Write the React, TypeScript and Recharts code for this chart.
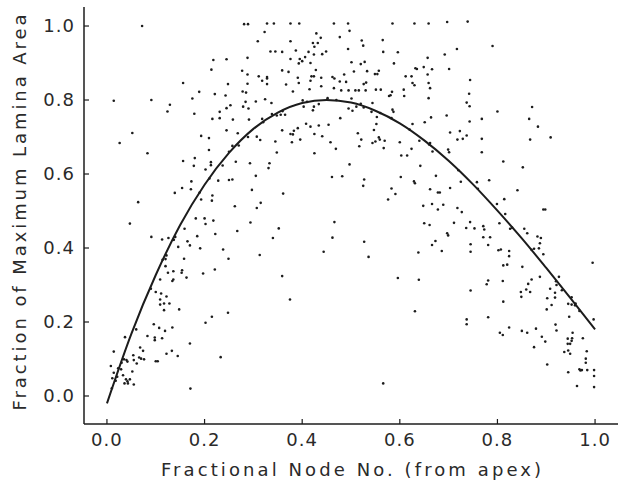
import React from "react";
import {
  ScatterChart,
  Scatter,
  XAxis,
  YAxis,
  Label,
} from "recharts";

// tick values
const xTicks = [0, 0.2, 0.4, 0.6, 0.8, 1.0];
const yTicks = [0, 0.2, 0.4, 0.6, 0.8, 1.0];

// fitted curve
const curveX = [0, 0.05, 0.1, 0.15, 0.2, 0.25, 0.3, 0.35, 0.4, 0.45, 0.5, 0.55, 0.6, 0.65, 0.7, 0.75, 0.8, 0.85, 0.9, 0.95, 1.0];
const curveY = [-0.02, 0.168, 0.327, 0.462, 0.571, 0.657, 0.722, 0.766, 0.792, 0.8, 0.793, 0.771, 0.737, 0.691, 0.636, 0.572, 0.501, 0.426, 0.346, 0.264, 0.18];

// observations, by region of the plot
const upperLeft: [number, number][] = [
  [0.072, 1.0], [0.281, 1.005], [0.289, 1.005], [0.309, 0.959], [0.218, 0.908], [0.245, 0.91], [0.288, 0.914],
  [0.214, 0.882], [0.277, 0.879], [0.288, 0.869], [0.311, 0.864], [0.156, 0.846], [0.248, 0.843], [0.288, 0.844],
  [0.189, 0.822], [0.221, 0.816], [0.243, 0.812], [0.278, 0.823], [0.285, 0.82], [0.175, 0.804], [0.014, 0.798],
  [0.091, 0.8], [0.284, 0.795], [0.305, 0.796], [0.129, 0.787], [0.253, 0.786], [0.245, 0.778], [0.279, 0.782],
  [0.29, 0.777], [0.124, 0.769], [0.231, 0.768], [0.179, 0.763], [0.216, 0.749], [0.231, 0.751], [0.258, 0.747],
  [0.291, 0.747], [0.245, 0.718], [0.268, 0.71], [0.193, 0.703], [0.209, 0.697], [0.289, 0.7], [0.307, 0.701],
  [0.314, 0.692], [0.052, 0.711], [0.026, 0.684], [0.083, 0.656], [0.209, 0.665], [0.257, 0.676], [0.27, 0.677],
  [0.18, 0.643], [0.156, 0.635], [0.213, 0.624], [0.213, 0.632], [0.264, 0.633], [0.293, 0.629], [0.178, 0.622],
  [0.202, 0.612], [0.237, 0.623], [0.21, 0.588], [0.228, 0.582], [0.25, 0.584], [0.257, 0.585], [0.305, 0.595],
  [0.173, 0.58], [0.154, 0.562], [0.172, 0.559], [0.139, 0.549], [0.216, 0.542], [0.297, 0.557], [0.193, 0.531],
  [0.215, 0.528], [0.064, 0.524], [0.262, 0.513], [0.307, 0.508], [0.315, 0.522],
];

const lowerLeft: [number, number][] = [
  [0.047, 0.466], [0.182, 0.48], [0.2, 0.48], [0.218, 0.474], [0.159, 0.452], [0.202, 0.465], [0.294, 0.469],
  [0.091, 0.43], [0.113, 0.423], [0.126, 0.427], [0.137, 0.422], [0.165, 0.418], [0.17, 0.407], [0.185, 0.432],
  [0.222, 0.438], [0.146, 0.403], [0.191, 0.399], [0.267, 0.446], [0.238, 0.396], [0.313, 0.381], [0.122, 0.38],
  [0.158, 0.371], [0.249, 0.371], [0.114, 0.368], [0.12, 0.351], [0.136, 0.337], [0.154, 0.34], [0.153, 0.333],
  [0.125, 0.333], [0.109, 0.315], [0.136, 0.315], [0.134, 0.311], [0.163, 0.32], [0.197, 0.331], [0.221, 0.342],
  [0.1, 0.281], [0.111, 0.277], [0.122, 0.269], [0.109, 0.261], [0.109, 0.247], [0.117, 0.25], [0.128, 0.25],
  [0.117, 0.232], [0.148, 0.234], [0.248, 0.225], [0.215, 0.214], [0.202, 0.198], [0.096, 0.194], [0.107, 0.184],
  [0.119, 0.176], [0.134, 0.185], [0.037, 0.159], [0.083, 0.162], [0.098, 0.158], [0.098, 0.151], [0.113, 0.156],
  [0.17, 0.142], [0.122, 0.114], [0.133, 0.122], [0.145, 0.108], [0.014, 0.12], [0.068, 0.131], [0.074, 0.122],
  [0.055, 0.097], [0.066, 0.104], [0.07, 0.101], [0.076, 0.099], [0.061, 0.088], [0.1, 0.094], [0.104, 0.094],
  [0.233, 0.105], [0.054, 0.11], [0.035, 0.099], [0.04, 0.097], [0.008, 0.081], [0.014, 0.063], [0.023, 0.075],
  [0.029, 0.072], [0.011, 0.048], [0.021, 0.052], [0.018, 0.041], [0.033, 0.056], [0.039, 0.045], [0.042, 0.04],
  [0.036, 0.034], [0.043, 0.034], [0.052, 0.066], [0.055, 0.031], [0.047, 0.045], [0.01, 0.021], [0.171, 0.02],
  [0.042, 0.093],
];

const upperMiddle: [number, number][] = [
  [0.328, 1.007], [0.342, 1.007], [0.376, 1.007], [0.394, 1.007], [0.465, 1.007], [0.494, 1.007], [0.585, 1.007],
  [0.63, 1.007], [0.659, 1.007], [0.323, 0.984], [0.429, 0.98], [0.497, 0.987], [0.438, 0.968], [0.477, 0.97],
  [0.376, 0.959], [0.422, 0.954], [0.432, 0.954], [0.425, 0.944], [0.522, 0.961], [0.565, 0.962], [0.525, 0.947],
  [0.335, 0.931], [0.345, 0.931], [0.359, 0.93], [0.387, 0.934], [0.413, 0.93], [0.494, 0.938], [0.449, 0.931],
  [0.424, 0.923], [0.441, 0.924], [0.566, 0.93], [0.596, 0.929], [0.406, 0.916], [0.376, 0.911], [0.395, 0.911],
  [0.4, 0.905], [0.393, 0.899], [0.417, 0.9], [0.501, 0.902], [0.52, 0.897], [0.528, 0.903], [0.588, 0.899],
  [0.657, 0.914], [0.632, 0.886], [0.635, 0.884], [0.649, 0.889], [0.666, 0.883], [0.359, 0.88], [0.372, 0.876],
  [0.428, 0.881], [0.506, 0.877], [0.533, 0.878], [0.549, 0.87], [0.554, 0.87], [0.557, 0.879], [0.328, 0.862],
  [0.328, 0.858], [0.391, 0.86], [0.419, 0.864], [0.424, 0.864], [0.417, 0.852], [0.439, 0.86], [0.462, 0.862],
  [0.466, 0.858], [0.486, 0.869], [0.318, 0.852], [0.477, 0.85], [0.49, 0.849], [0.531, 0.847], [0.526, 0.843],
  [0.612, 0.864], [0.624, 0.864], [0.626, 0.846], [0.63, 0.84], [0.657, 0.869], [0.659, 0.846], [0.662, 0.832],
  [0.328, 0.843], [0.367, 0.842], [0.393, 0.846], [0.439, 0.837], [0.465, 0.832], [0.415, 0.829], [0.381, 0.823],
  [0.48, 0.826], [0.495, 0.826], [0.509, 0.826], [0.516, 0.826], [0.53, 0.826], [0.551, 0.828], [0.561, 0.828],
  [0.584, 0.822], [0.581, 0.813], [0.578, 0.811], [0.608, 0.828], [0.609, 0.811], [0.659, 0.805], [0.324, 0.802],
  [0.337, 0.792], [0.401, 0.799], [0.452, 0.805], [0.501, 0.804], [0.403, 0.782], [0.424, 0.782], [0.422, 0.772],
  [0.434, 0.789], [0.511, 0.782], [0.526, 0.78], [0.495, 0.777], [0.503, 0.771], [0.544, 0.792], [0.542, 0.768],
  [0.585, 0.774], [0.587, 0.768], [0.583, 0.751], [0.356, 0.76], [0.365, 0.76], [0.338, 0.762], [0.318, 0.749],
  [0.348, 0.758], [0.478, 0.751], [0.553, 0.754], [0.664, 0.753], [0.408, 0.736], [0.417, 0.728], [0.434, 0.731],
  [0.454, 0.733], [0.552, 0.735], [0.626, 0.735], [0.651, 0.74], [0.391, 0.724], [0.383, 0.717], [0.381, 0.707],
  [0.376, 0.708], [0.359, 0.718], [0.425, 0.708], [0.441, 0.702], [0.514, 0.71], [0.547, 0.719], [0.557, 0.699],
  [0.559, 0.693], [0.396, 0.693], [0.345, 0.688], [0.379, 0.686], [0.458, 0.686], [0.521, 0.693], [0.517, 0.675],
  [0.544, 0.684], [0.55, 0.688], [0.569, 0.69], [0.6, 0.686], [0.567, 0.67], [0.624, 0.668], [0.469, 0.668],
  [0.64, 0.69], [0.662, 0.684], [0.667, 0.661], [0.348, 0.658], [0.425, 0.656], [0.603, 0.65], [0.615, 0.65],
  [0.333, 0.629], [0.331, 0.616], [0.497, 0.626], [0.642, 0.622], [0.461, 0.592], [0.482, 0.594], [0.527, 0.585],
  [0.525, 0.568], [0.602, 0.592], [0.629, 0.58], [0.631, 0.575], [0.674, 0.595], [0.583, 0.561], [0.591, 0.546],
  [0.662, 0.559], [0.678, 0.55], [0.361, 0.547], [0.576, 0.531], [0.648, 0.514], [0.666, 0.519], [0.678, 0.504],
];

const lowerMiddle: [number, number][] = [
  [0.352, 0.453], [0.466, 0.47], [0.34, 0.427], [0.462, 0.428], [0.444, 0.39], [0.527, 0.417], [0.536, 0.376],
  [0.65, 0.467], [0.661, 0.462], [0.673, 0.419], [0.666, 0.408], [0.638, 0.388], [0.359, 0.324], [0.596, 0.319],
  [0.639, 0.314], [0.375, 0.261], [0.631, 0.229], [0.566, 0.034],
];

const upperRight: [number, number][] = [
  [0.697, 1.011], [0.739, 1.012], [0.79, 0.946], [0.717, 0.938], [0.692, 0.923], [0.701, 0.884], [0.744, 0.854],
  [0.742, 0.817], [0.737, 0.793], [0.743, 0.783], [0.8, 0.769], [0.871, 0.781], [0.696, 0.758], [0.768, 0.749],
  [0.743, 0.742], [0.865, 0.749], [0.883, 0.728], [0.703, 0.712], [0.723, 0.716], [0.737, 0.704], [0.718, 0.693],
  [0.729, 0.695], [0.768, 0.695], [0.867, 0.693], [0.909, 0.699], [0.699, 0.666], [0.701, 0.659], [0.768, 0.659],
  [0.812, 0.634], [0.852, 0.618], [0.725, 0.579], [0.758, 0.578], [0.783, 0.583], [0.703, 0.562], [0.682, 0.55],
  [0.841, 0.556], [0.689, 0.517], [0.718, 0.508], [0.727, 0.497], [0.799, 0.519], [0.814, 0.532], [0.816, 0.492],
  [0.894, 0.504], [0.898, 0.504],
];

const lowerRight: [number, number][] = [
  [0.711, 0.468], [0.744, 0.47], [0.697, 0.44], [0.699, 0.434], [0.736, 0.454], [0.753, 0.453], [0.773, 0.45],
  [0.771, 0.459], [0.771, 0.429], [0.785, 0.429], [0.804, 0.467], [0.826, 0.452], [0.855, 0.452], [0.861, 0.44],
  [0.882, 0.431], [0.889, 0.427], [0.887, 0.413], [0.686, 0.392], [0.745, 0.41], [0.745, 0.39], [0.781, 0.408],
  [0.802, 0.394], [0.807, 0.396], [0.824, 0.392], [0.824, 0.378], [0.875, 0.398], [0.885, 0.399], [0.894, 0.383],
  [0.812, 0.353], [0.82, 0.355], [0.851, 0.349], [0.995, 0.36], [0.887, 0.322], [0.781, 0.312], [0.778, 0.302],
  [0.811, 0.311], [0.87, 0.315], [0.863, 0.303], [0.859, 0.288], [0.867, 0.281], [0.926, 0.322], [0.908, 0.29],
  [0.918, 0.279], [0.932, 0.286], [0.921, 0.3], [0.745, 0.285], [0.848, 0.281], [0.849, 0.268], [0.902, 0.264],
  [0.918, 0.266], [0.911, 0.246], [0.901, 0.234], [0.952, 0.267], [0.945, 0.249], [0.952, 0.247], [0.959, 0.245],
  [0.812, 0.255], [0.947, 0.214], [0.968, 0.23], [0.997, 0.207], [0.737, 0.207], [0.737, 0.194], [0.781, 0.213],
  [0.919, 0.193], [0.921, 0.177], [0.805, 0.171], [0.811, 0.165], [0.824, 0.185], [0.85, 0.176], [0.861, 0.171],
  [0.879, 0.182], [0.891, 0.16], [0.898, 0.147], [0.875, 0.132], [0.902, 0.085], [0.954, 0.171], [0.953, 0.156],
  [0.952, 0.149], [0.944, 0.155], [0.944, 0.141], [0.949, 0.141], [0.975, 0.156], [0.937, 0.119], [0.945, 0.123],
  [0.949, 0.114], [0.983, 0.121], [0.981, 0.101], [0.981, 0.09], [0.968, 0.072], [0.97, 0.069], [0.973, 0.07],
  [0.984, 0.07], [0.998, 0.07], [0.998, 0.054], [0.998, 0.024], [0.945, 0.064], [0.963, 0.027],
];

// dots sitting on the fitted line
const onCurve: [number, number][] = [
  [0.03, 0.09], [0.06, 0.18], [0.09, 0.29], [0.12, 0.37], [0.14, 0.43], [0.19, 0.55], [0.25, 0.66],
  [0.32, 0.74], [0.36, 0.77], [0.41, 0.795], [0.47, 0.8], [0.52, 0.79], [0.56, 0.765], [0.62, 0.72],
  [0.66, 0.68], [0.72, 0.61], [0.76, 0.56], [0.83, 0.455], [0.87, 0.395], [0.92, 0.31], [0.96, 0.25],
];

const allPoints = [...upperLeft, ...lowerLeft, ...upperMiddle, ...lowerMiddle, ...upperRight, ...lowerRight, ...onCurve]
  .map(([x, y]) => ({ x, y }));
const curveData = curveX.map((x, i) => ({ x, y: curveY[i] }));

const FONT = "'DejaVu Sans', sans-serif";
const INK = "#1c1c1c";

const Dot = (p: any) => <circle cx={p.cx} cy={p.cy} r={1.3} fill={INK} />;

export default function App() {
  return (
    <div style={{ position: "absolute", left: 0, top: 0, width: 618, height: 488, background: "#fff" }}>
      <ScatterChart width={618} height={488} margin={{ top: 7, right: 0, bottom: 0, left: 0 }}>
        <XAxis
          type="number"
          dataKey="x"
          domain={[-0.047, 1.047]}
          ticks={xTicks}
          tickFormatter={(v: number) => v.toFixed(1)}
          height={64}
          tickSize={-5}
          tickMargin={14}
          axisLine={{ stroke: INK, strokeWidth: 1.5 }}
          tickLine={{ stroke: INK, strokeWidth: 1.2 }}
          tick={{ fill: "#2a2a2a", fontSize: 18, fontFamily: FONT, letterSpacing: 1 }}
          allowDataOverflow
        >
          <Label
            content={(props: any) => {
              const vb = props.viewBox;
              return (
                <text
                  x={vb.x + vb.width / 2}
                  y={vb.y + 52}
                  textAnchor="middle"
                  fontSize={18}
                  fontFamily={FONT}
                  fill="#2a2a2a"
                  textLength={380}
                  lengthAdjust="spacing"
                >
                  Fractional Node No. (from apex)
                </text>
              );
            }}
          />
        </XAxis>
        <YAxis
          type="number"
          dataKey="y"
          domain={[-0.0757, 1.0514]}
          ticks={yTicks}
          tickFormatter={(v: number) => v.toFixed(1)}
          width={84}
          tickSize={-5}
          tickMargin={14}
          axisLine={{ stroke: INK, strokeWidth: 1.5 }}
          tickLine={{ stroke: INK, strokeWidth: 1.2 }}
          tick={{ fill: "#2a2a2a", fontSize: 18, fontFamily: FONT, letterSpacing: 1 }}
          allowDataOverflow
        >
          <Label
            content={(props: any) => {
              const vb = props.viewBox;
              const cx = vb.x + 26;
              const cy = vb.y + vb.height / 2 - 3;
              return (
                <text
                  x={cx}
                  y={cy}
                  transform={`rotate(-90, ${cx}, ${cy})`}
                  textAnchor="middle"
                  fontSize={18}
                  fontFamily={FONT}
                  fill="#2a2a2a"
                  textLength={396}
                  lengthAdjust="spacing"
                >
                  Fraction of Maximum Lamina Area
                </text>
              );
            }}
          />
        </YAxis>
        <Scatter data={allPoints} shape={Dot} isAnimationActive={false} legendType="none" />
        <Scatter
          data={curveData}
          shape={() => <g />}
          line={{ stroke: INK, strokeWidth: 2 }}
          lineJointType="monotoneX"
          isAnimationActive={false}
          legendType="none"
        />
      </ScatterChart>
    </div>
  );
}
